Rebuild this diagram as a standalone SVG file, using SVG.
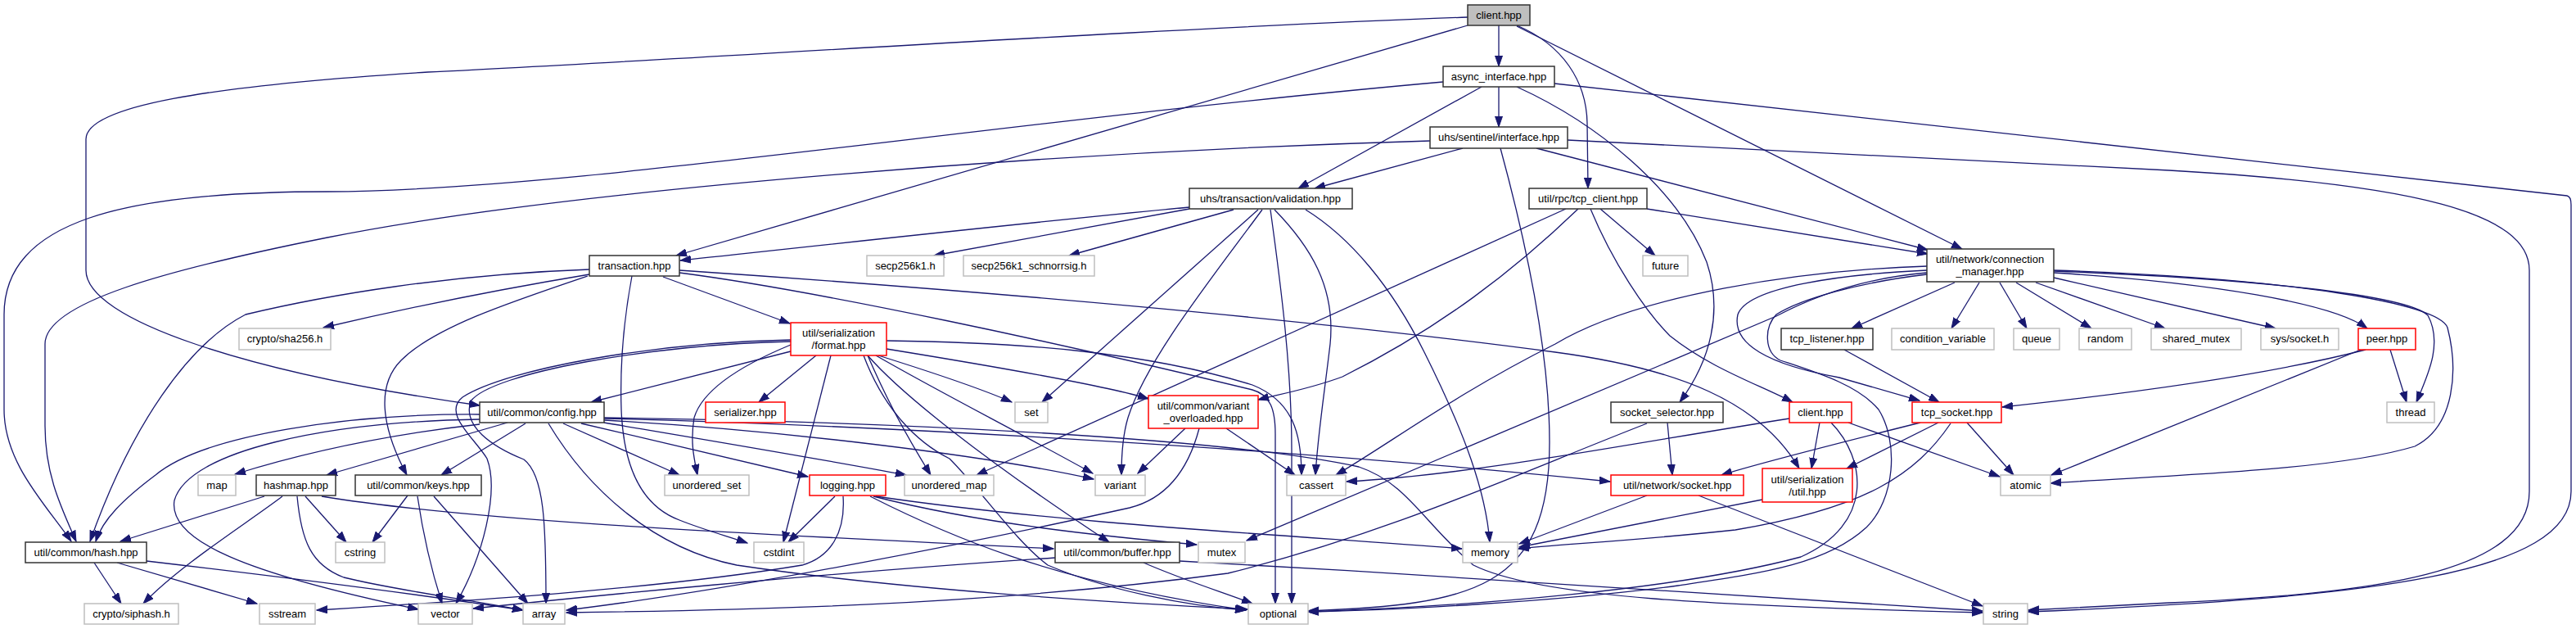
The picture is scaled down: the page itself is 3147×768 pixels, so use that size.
<svg xmlns="http://www.w3.org/2000/svg" width="3147" height="768" viewBox="0 0 3147 768">
<style>
.n rect{fill:#fff;stroke:#333;stroke-width:1.5}
.g rect{stroke:#bfbfbf}
.r rect{stroke:#ff0000}
.root rect{fill:#bfbfbf}
text{font-family:"Liberation Sans",Arial,sans-serif;font-size:13px;text-anchor:middle;fill:#000}
#edges path{fill:none;stroke:#191970;stroke-width:1.3;marker-end:url(#a)}
</style>
<defs>
<marker id="a" markerWidth="14" markerHeight="10" refX="13" refY="5" orient="auto" markerUnits="userSpaceOnUse">
<path d="M0,0.5 L13,5 L0,9.5 z" fill="#191970" stroke="#191970" stroke-width="1"/>
</marker>
</defs>
<rect width="3147" height="768" fill="#fff"/>
<g id="edges">
<path d="M1831,31 L1831,81"/>
<path d="M1793,31 L826,312"/>
<path d="M1793,21 C1400,35 800,75 523,88 C250,105 105,130 105,170 L105,330 C105,390 300,455 586,495"/>
<path d="M1853,31 C1910,55 1938,100 1939,150 L1940,230"/>
<path d="M1853,32 L2397,304"/>
<path d="M1831,106 L1831,155"/>
<path d="M1763,100 C1200,150 700,233 400,234 C150,234 5,270 5,384 L5,500 C5,565 55,615 87,661"/>
<path d="M1810,106 L1586,230"/>
<path d="M1899,102 L3136,239 Q3141,240 3141,250 L3141,600 C3141,700 2900,730 2478,747"/>
<path d="M1853,106 C1950,150 2050,230 2085,320 C2105,380 2090,440 2052,491"/>
<path d="M1747,172 C1300,185 700,230 400,290 C200,330 55,370 55,420 L55,520 C55,580 75,620 93,661"/>
<path d="M1787,181 L1606,230"/>
<path d="M1833,181 C1860,280 1893,420 1893,540 C1893,720 1800,738 1598,746"/>
<path d="M1877,181 L2355,305"/>
<path d="M1915,171 L2650,208 C2950,225 3090,260 3090,330 L3090,600 C3090,700 2900,725 2650,736 L2478,745"/>
<path d="M1453,253 C1250,272 1000,300 831,318"/>
<path d="M1453,255 L1141,312"/>
<path d="M1507,256 L1306,312"/>
<path d="M1537,256 L1273,491"/>
<path d="M1542,256 C1480,340 1400,440 1378,510 C1372,530 1370,555 1370,580"/>
<path d="M1552,256 C1565,350 1578,450 1578,550 L1578,737"/>
<path d="M1557,256 C1600,300 1632,350 1625,420 C1618,480 1610,530 1607,580"/>
<path d="M1595,256 C1650,290 1700,350 1740,430 C1790,530 1815,600 1820,662"/>
<path d="M1913,255 L1193,580"/>
<path d="M1928,255 C1850,330 1760,400 1640,460 C1600,475 1560,482 1537,488"/>
<path d="M1943,255 C1970,320 2010,380 2040,410 C2090,450 2150,470 2190,491"/>
<path d="M1955,255 L2022,312"/>
<path d="M2012,255 L2355,310"/>
<path d="M720,329 C550,335 400,360 300,384 C230,420 160,520 110,661"/>
<path d="M720,335 C600,355 480,380 395,400"/>
<path d="M718,337 C620,370 530,400 490,440 C460,470 465,520 497,580"/>
<path d="M772,337 C764,380 757,440 759,500 C762,580 790,620 830,635 C860,647 890,655 913,663"/>
<path d="M810,338 L965,395"/>
<path d="M830,330 C1200,355 1600,390 1900,430 C2050,450 2150,490 2198,572"/>
<path d="M830,333 C1000,355 1300,420 1530,476 C1552,482 1558,500 1558,530 L1558,737"/>
<path d="M966,429 L722,491"/>
<path d="M997,434 L927,491"/>
<path d="M966,421 C920,440 860,470 848,510 C843,540 848,560 852,580"/>
<path d="M1015,434 L957,662"/>
<path d="M966,415 C800,418 620,450 565,485 C540,505 580,535 595,560 C610,600 590,680 557,737"/>
<path d="M966,417 C800,420 600,455 575,490 C565,520 600,545 640,561 C665,580 667,640 667,737"/>
<path d="M1083,426 C1200,445 1350,470 1403,487"/>
<path d="M1073,434 C1140,455 1200,475 1236,491"/>
<path d="M1070,434 C1150,480 1230,520 1335,578"/>
<path d="M1060,434 C1080,480 1100,520 1137,580"/>
<path d="M1060,434 C1100,480 1200,560 1355,662"/>
<path d="M1055,434 C1080,500 1120,540 1160,560 C1200,600 1240,660 1280,690 C1350,720 1450,740 1522,745"/>
<path d="M1083,416 C1250,418 1400,430 1530,470 C1580,490 1590,530 1590,580"/>
<path d="M586,506 C430,505 250,530 190,580 C150,610 125,635 117,661"/>
<path d="M586,512 C400,515 230,550 213,611 C205,660 300,700 511,744"/>
<path d="M586,518 C480,530 380,550 287,579"/>
<path d="M620,516 L399,580"/>
<path d="M642,517 L539,580"/>
<path d="M670,517 C720,600 800,670 900,690 C1100,720 1350,735 1524,744"/>
<path d="M688,517 L830,580"/>
<path d="M710,517 L987,582"/>
<path d="M738,516 C850,535 1000,560 1107,580"/>
<path d="M738,513 C950,525 1200,555 1336,585"/>
<path d="M738,511 C1100,520 1600,550 1967,588"/>
<path d="M738,510 C1100,515 1500,535 1660,570 C1720,590 1740,640 1800,690 C1880,730 2100,740 2422,748"/>
<path d="M498,605 L455,662"/>
<path d="M510,606 C515,640 525,690 540,737"/>
<path d="M530,606 L645,737"/>
<path d="M323,606 L147,661"/>
<path d="M345,606 C300,640 220,690 175,737"/>
<path d="M373,606 L423,662"/>
<path d="M363,606 C368,660 380,690 420,705 C480,720 560,730 639,745"/>
<path d="M393,606 C600,640 1000,655 1287,670"/>
<path d="M115,687 L148,737"/>
<path d="M143,687 L314,737"/>
<path d="M179,685 C350,705 520,727 639,745"/>
<path d="M1020,606 L963,662"/>
<path d="M1030,606 C1033,650 1015,680 980,690 C800,720 550,735 387,745"/>
<path d="M1067,606 C1200,640 1350,655 1462,665"/>
<path d="M1070,606 C1300,640 1600,655 1786,670"/>
<path d="M1063,606 C1150,650 1280,710 1522,745"/>
<path d="M1289,681 C1000,700 700,730 578,743"/>
<path d="M1397,687 C1450,710 1500,725 1530,737"/>
<path d="M1441,685 C1800,705 2200,730 2422,746"/>
<path d="M1448,523 L1390,578"/>
<path d="M1465,523 C1450,580 1420,610 1380,620 C1200,660 900,720 692,745"/>
<path d="M1498,523 L1582,580"/>
<path d="M2186,511 C2000,540 1800,580 1645,588"/>
<path d="M2223,516 L2213,572"/>
<path d="M2237,516 C2280,560 2290,640 2200,680 C2050,720 1800,740 1598,747"/>
<path d="M2258,516 L2443,582"/>
<path d="M2346,516 C2250,540 2150,565 2103,580"/>
<path d="M2368,516 L2256,572"/>
<path d="M2383,517 C2340,580 2280,620 2120,647 C2000,660 1900,665 1855,670"/>
<path d="M2403,516 L2460,580"/>
<path d="M2012,605 L1856,664"/>
<path d="M2075,605 L2422,740"/>
<path d="M2037,516 L2043,580"/>
<path d="M2012,517 C1850,580 1700,650 1500,700 C1200,740 900,745 692,748"/>
<path d="M2153,610 C2050,630 1950,650 1856,668"/>
<path d="M2890,427 C2820,445 2700,470 2446,497"/>
<path d="M2884,427 L2506,580"/>
<path d="M2920,427 L2940,491"/>
<path d="M2253,427 L2369,491"/>
<path d="M2388,345 L2262,401"/>
<path d="M2418,345 L2384,401"/>
<path d="M2443,345 L2476,401"/>
<path d="M2463,345 L2555,401"/>
<path d="M2487,345 L2645,401"/>
<path d="M2509,339 L2780,401"/>
<path d="M2509,333 C2700,345 2850,370 2892,401"/>
<path d="M2509,331 C2750,340 2940,360 2966,385 C2985,420 2965,460 2952,491"/>
<path d="M2509,330 C2800,340 2980,370 2990,400 C3003,450 3000,520 2950,545 C2850,575 2650,580 2505,590"/>
<path d="M2354,325 C2200,330 2000,360 1900,420 C1780,480 1700,540 1632,580"/>
<path d="M2354,330 C2250,335 2135,350 2123,384 C2115,420 2160,445 2247,461 L2345,489"/>
<path d="M2354,335 C2270,345 2200,365 2170,384 C2155,400 2155,430 2175,440 C2220,455 2270,470 2295,500 C2320,540 2315,610 2280,644 C2230,690 2150,700 2050,715 C1900,735 1700,745 1598,747"/>
<path d="M2354,333 C2270,340 2210,365 2170,386 L1523,660"/>
</g>
<g id="n0" class="n root"><rect x="1793" y="6" width="76" height="25"/><text x="1831" y="23">client.hpp</text></g>
<g id="n1" class="n"><rect x="1763" y="81" width="136" height="25"/><text x="1831" y="98">async_interface.hpp</text></g>
<g id="n2" class="n"><rect x="1747" y="155" width="168" height="26"/><text x="1831" y="172">uhs/sentinel/interface.hpp</text></g>
<g id="n3" class="n"><rect x="1453" y="230" width="199" height="25"/><text x="1552" y="247">uhs/transaction/validation.hpp</text></g>
<g id="n4" class="n"><rect x="1868" y="230" width="144" height="25"/><text x="1940" y="247">util/rpc/tcp_client.hpp</text></g>
<g id="n5" class="n"><rect x="2354" y="304" width="155" height="40"/><text x="2431" y="321">util/network/connection</text><text x="2431" y="336">_manager.hpp</text></g>
<g id="n6" class="n"><rect x="720" y="312" width="110" height="25"/><text x="775" y="329">transaction.hpp</text></g>
<g id="n7" class="n g"><rect x="1059" y="312" width="94" height="25"/><text x="1106" y="329">secp256k1.h</text></g>
<g id="n8" class="n g"><rect x="1177" y="312" width="160" height="25"/><text x="1257" y="329">secp256k1_schnorrsig.h</text></g>
<g id="n9" class="n g"><rect x="2007" y="312" width="55" height="25"/><text x="2034.5" y="329">future</text></g>
<g id="n10" class="n g"><rect x="292" y="401" width="112" height="26"/><text x="348" y="418">crypto/sha256.h</text></g>
<g id="n11" class="n r"><rect x="966" y="394" width="117" height="40"/><text x="1024.5" y="411">util/serialization</text><text x="1024.5" y="426">/format.hpp</text></g>
<g id="n12" class="n"><rect x="2176" y="401" width="112" height="26"/><text x="2232" y="418">tcp_listener.hpp</text></g>
<g id="n13" class="n g"><rect x="2311" y="401" width="125" height="26"/><text x="2373.5" y="418">condition_variable</text></g>
<g id="n14" class="n g"><rect x="2460" y="401" width="56" height="26"/><text x="2488" y="418">queue</text></g>
<g id="n15" class="n g"><rect x="2540" y="401" width="64" height="26"/><text x="2572" y="418">random</text></g>
<g id="n16" class="n g"><rect x="2628" y="401" width="110" height="26"/><text x="2683" y="418">shared_mutex</text></g>
<g id="n17" class="n g"><rect x="2762" y="401" width="95" height="26"/><text x="2809.5" y="418">sys/socket.h</text></g>
<g id="n18" class="n r"><rect x="2881" y="401" width="70" height="26"/><text x="2916" y="418">peer.hpp</text></g>
<g id="n19" class="n"><rect x="586" y="491" width="152" height="25"/><text x="662" y="508">util/common/config.hpp</text></g>
<g id="n20" class="n r"><rect x="862" y="491" width="97" height="25"/><text x="910.5" y="508">serializer.hpp</text></g>
<g id="n21" class="n g"><rect x="1240" y="491" width="40" height="25"/><text x="1260" y="508">set</text></g>
<g id="n22" class="n r"><rect x="1403" y="483" width="134" height="40"/><text x="1470" y="500">util/common/variant</text><text x="1470" y="515">_overloaded.hpp</text></g>
<g id="n23" class="n"><rect x="1968" y="491" width="137" height="25"/><text x="2036.5" y="508">socket_selector.hpp</text></g>
<g id="n24" class="n r"><rect x="2186" y="491" width="76" height="25"/><text x="2224" y="508">client.hpp</text></g>
<g id="n25" class="n r"><rect x="2336" y="491" width="109" height="25"/><text x="2390.5" y="508">tcp_socket.hpp</text></g>
<g id="n26" class="n g"><rect x="2916" y="491" width="58" height="25"/><text x="2945" y="508">thread</text></g>
<g id="n27" class="n g"><rect x="242" y="580" width="46" height="25"/><text x="265" y="597">map</text></g>
<g id="n28" class="n"><rect x="313" y="580" width="97" height="25"/><text x="361.5" y="597">hashmap.hpp</text></g>
<g id="n29" class="n"><rect x="434" y="580" width="154" height="25"/><text x="511" y="597">util/common/keys.hpp</text></g>
<g id="n30" class="n g"><rect x="812" y="580" width="103" height="25"/><text x="863.5" y="597">unordered_set</text></g>
<g id="n31" class="n r"><rect x="989" y="580" width="93" height="25"/><text x="1035.5" y="597">logging.hpp</text></g>
<g id="n32" class="n g"><rect x="1105" y="580" width="109" height="25"/><text x="1159.5" y="597">unordered_map</text></g>
<g id="n33" class="n g"><rect x="1338" y="580" width="61" height="25"/><text x="1368.5" y="597">variant</text></g>
<g id="n34" class="n g"><rect x="1572" y="580" width="72" height="25"/><text x="1608" y="597">cassert</text></g>
<g id="n35" class="n r"><rect x="1968" y="580" width="162" height="25"/><text x="2049" y="597">util/network/socket.hpp</text></g>
<g id="n36" class="n r"><rect x="2153" y="572" width="110" height="41"/><text x="2208" y="590">util/serialization</text><text x="2208" y="605">/util.hpp</text></g>
<g id="n37" class="n g"><rect x="2444" y="580" width="61" height="25"/><text x="2474.5" y="597">atomic</text></g>
<g id="n38" class="n"><rect x="31" y="662" width="148" height="25"/><text x="105" y="679">util/common/hash.hpp</text></g>
<g id="n39" class="n g"><rect x="410" y="662" width="60" height="25"/><text x="440" y="679">cstring</text></g>
<g id="n40" class="n g"><rect x="921" y="662" width="61" height="25"/><text x="951.5" y="679">cstdint</text></g>
<g id="n41" class="n"><rect x="1289" y="662" width="152" height="25"/><text x="1365" y="679">util/common/buffer.hpp</text></g>
<g id="n42" class="n g"><rect x="1464" y="662" width="57" height="25"/><text x="1492.5" y="679">mutex</text></g>
<g id="n43" class="n g"><rect x="1787" y="662" width="67" height="25"/><text x="1820.5" y="679">memory</text></g>
<g id="n44" class="n g"><rect x="103" y="737" width="115" height="25"/><text x="160.5" y="754">crypto/siphash.h</text></g>
<g id="n45" class="n g"><rect x="317" y="737" width="68" height="25"/><text x="351" y="754">sstream</text></g>
<g id="n46" class="n g"><rect x="511" y="737" width="66" height="25"/><text x="544" y="754">vector</text></g>
<g id="n47" class="n g"><rect x="639" y="737" width="51" height="25"/><text x="664.5" y="754">array</text></g>
<g id="n48" class="n g"><rect x="1525" y="737" width="73" height="25"/><text x="1561.5" y="754">optional</text></g>
<g id="n49" class="n g"><rect x="2423" y="737" width="54" height="25"/><text x="2450" y="754">string</text></g>
</svg>
